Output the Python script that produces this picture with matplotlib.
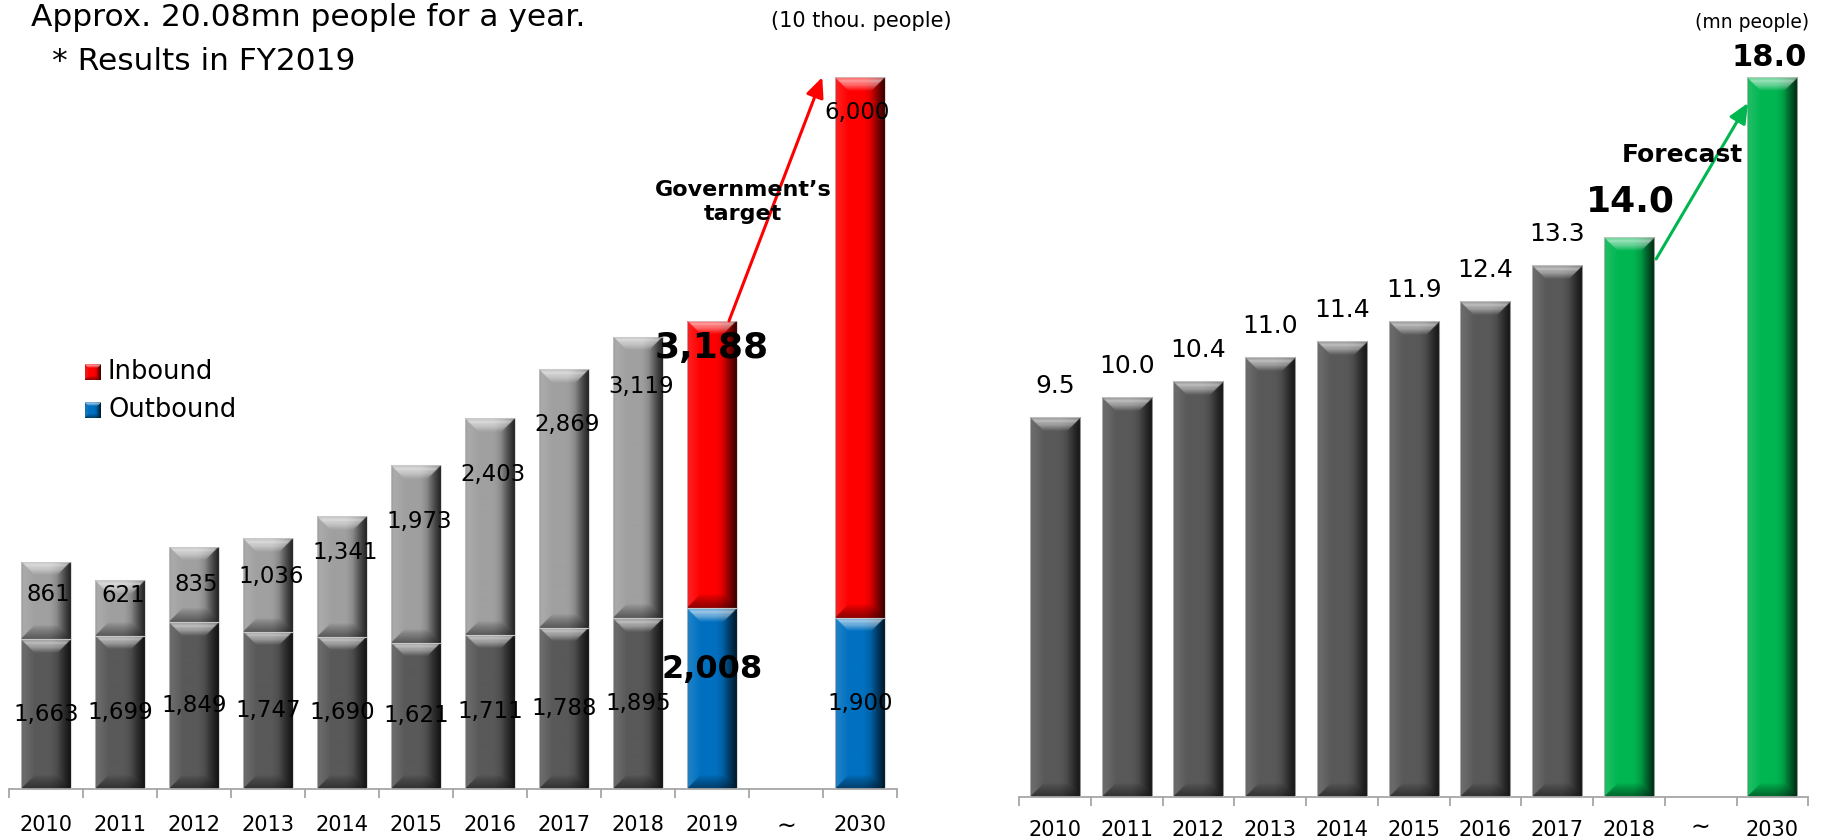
import numpy as np
import matplotlib
matplotlib.use("Agg")
import matplotlib.pyplot as plt
from matplotlib.colors import to_rgb

plt.rcParams["font.family"] = ["DejaVu Sans"]

# ---------------- data ----------------
years_left = ["2010", "2011", "2012", "2013", "2014", "2015", "2016",
              "2017", "2018", "2019", "\u223c", "2030"]
outbound = [1663, 1699, 1849, 1747, 1690, 1621, 1711, 1788, 1895, 2008, np.nan, 1900]
inbound = [861, 621, 835, 1036, 1341, 1973, 2403, 2869, 3119, 3188, np.nan, 6000]

years_right = ["2010", "2011", "2012", "2013", "2014", "2015", "2016",
               "2017", "2018", "\u223c", "2030"]
travelers = [9.5, 10.0, 10.4, 11.0, 11.4, 11.9, 12.4, 13.3, 14.0, np.nan, 18.0]

# ---------------- style ----------------
DARK_GRAY = "#595959"
LIGHT_GRAY = "#a0a0a0"
RED = "#ff0000"
BLUE = "#0070c0"
GREEN = "#00b650"
AXIS_GRAY = "#a6a6a6"

W, H, DPI = 1821, 839, 100
fig = plt.figure(figsize=(W / DPI, H / DPI), dpi=DPI)


def px_rect(x0, ybase, wpx, hpx):
    return [x0 / W, (H - ybase) / H, wpx / W, hpx / H]


def bevel(color, w, h, bev=14.0, ss=2):
    """RGB image of a bevelled bar face, w x h pixels."""
    w = max(int(round(w * ss)), 2)
    h = max(int(round(h * ss)), 2)
    bev = bev * ss
    base = np.array(to_rgb(color))
    y = (np.arange(h) + 0.5)[:, None] * np.ones((1, w))
    x = np.ones((h, 1)) * (np.arange(w) + 0.5)[None, :]
    d = np.stack([y, h - y, x, w - x])
    idx = d.argmin(0)
    dmin = d.min(0)
    t = np.clip(dmin / bev, 0, 1)
    xn = x / w
    face = np.ones_like(x)
    face *= np.where(xn > 0.55, 1 - 0.62 * ((xn - 0.55) / 0.45) ** 1.5, 1.0)
    face *= 1 - 0.2 * np.clip(1 - x / (2.5 * ss), 0, 1)
    img = base[None, None, :] * face[..., None]
    inside = dmin < bev
    # top bevel: a broad light band that fades into the face
    top = ((idx == 0) & inside)[..., None]
    amt = np.where(t < 0.55, 0.42 + 0.18 * np.exp(-((t - 0.28) / 0.12) ** 2),
                   0.42 * (1 - (t - 0.55) / 0.45))
    img = np.where(top, img + (1 - img) * amt[..., None], img)
    bottom = ((idx == 1) & inside)[..., None]
    img = np.where(bottom, img * (1 - 0.45 * (1 - t) ** 0.8)[..., None], img)
    left = ((idx == 2) & inside)[..., None]
    img = np.where(left, img + (1 - img) * (0.14 * (1 - t))[..., None], img)
    right = ((idx == 3) & inside)[..., None]
    img = np.where(right, img * (1 - 0.45 * (1 - t))[..., None], img)
    return np.clip(img, 0, 1)


def shade_bars(ax, bars, colors):
    for patch, col in zip(bars.patches, colors):
        hgt = patch.get_height()
        if not np.isfinite(hgt) or hgt <= 0:
            continue
        x0, y0 = patch.get_x(), patch.get_y()
        x1, y1 = x0 + patch.get_width(), y0 + hgt
        (px0, py0), (px1, py1) = ax.transData.transform([(x0, y0), (x1, y1)])
        img = bevel(col, abs(px1 - px0), abs(py1 - py0))
        im = ax.imshow(img, extent=(x0, x1, y0, y1), origin="upper",
                       aspect="auto", interpolation="bilinear", zorder=2.5)
        im.set_clip_path(patch)
        ax.add_patch(plt.Rectangle((x0, y0), x1 - x0, hgt, fill=False,
                                   edgecolor=(0.8, 0.8, 0.8, 0.7), lw=0.8,
                                   zorder=2.6))


def style_axis(ax, n):
    for s in ("top", "right", "left"):
        ax.spines[s].set_visible(False)
    ax.spines["bottom"].set_color(AXIS_GRAY)
    ax.spines["bottom"].set_linewidth(1.3)
    ax.set_yticks([])
    ax.set_xticks([])
    ax.set_xticks(np.arange(n + 1) - 0.5, minor=True)
    ax.tick_params(axis="x", which="minor", length=6.5, width=1.3,
                   color=AXIS_GRAY, labelbottom=False)
    ax.set_xlim(-0.5, n - 0.5)
    ax.set_autoscale_on(False)
    ax.patch.set_visible(False)


PT = 72 / DPI  # points per pixel

# ================= left chart =================
axL = fig.add_axes(px_rect(9, 789, 888, 8300 * 0.0901))
style_axis(axL, len(years_left))
axL.set_ylim(0, 8300)

xl = np.arange(len(years_left))
out_cols = [DARK_GRAY] * 9 + [BLUE, BLUE, BLUE]
in_cols = [LIGHT_GRAY] * 9 + [RED, RED, RED]
bw = 0.675
b_out = axL.bar(xl, outbound, width=bw, color=out_cols, zorder=2)
b_in = axL.bar(xl, inbound, bottom=outbound, width=bw, color=in_cols, zorder=2)
shade_bars(axL, b_out, out_cols)
shade_bars(axL, b_in, in_cols)

# value labels, gray years
inbound_label_drop_px = [33, 16, 37, 38, 37, 56, 56, 55, 49]
for i in range(9):
    o, n = outbound[i], inbound[i]
    axL.text(xl[i], o / 2, f"{o:,}", ha="center", va="center",
             fontsize=16.5, zorder=5)
    axL.annotate(f"{n:,}", xy=(xl[i], o + n), xytext=(2, -inbound_label_drop_px[i] * PT),
                 textcoords="offset points", ha="center", va="center",
                 fontsize=16.5, zorder=5)

# 2019 results
i19 = 9
axL.annotate(f"{inbound[i19]:,}", xy=(xl[i19], outbound[i19] + inbound[i19]),
             xytext=(0, -27 * PT), textcoords="offset points", ha="center",
             va="center", fontsize=26, fontweight="bold", zorder=5)
axL.annotate(f"{outbound[i19]:,}", xy=(xl[i19], outbound[i19]),
             xytext=(0, -61 * PT), textcoords="offset points", ha="center",
             va="center", fontsize=23, fontweight="bold", zorder=5)
# 2030 target
i30 = 11
axL.annotate(f"{inbound[i30]:,}", xy=(xl[i30], outbound[i30] + inbound[i30]),
             xytext=(-2, -35 * PT), textcoords="offset points", ha="center",
             va="center", fontsize=16.5, zorder=5)
axL.text(xl[i30], outbound[i30] / 2, f"{outbound[i30]:,}", ha="center",
         va="center", fontsize=16.5, zorder=5)

axL.annotate("", xy=(xl[i30] - 0.51, outbound[i30] + inbound[i30]),
             xytext=(xl[i19] + 0.23, outbound[i19] + inbound[i19]),
             arrowprops=dict(arrowstyle="-|>,head_length=0.6,head_width=0.27",
                             mutation_scale=20, color=RED, lw=2.2,
                             shrinkA=0, shrinkB=0), zorder=6)
axL.text(9.42, 6520, "Government\u2019s\ntarget", ha="center", va="center",
         fontsize=16, fontweight="bold", linespacing=1.25, zorder=7)

for i, lab in enumerate(years_left):
    if lab == "\u223c":
        axL.annotate(lab, xy=(i, 0), xytext=(0, -38 * PT), textcoords="offset points",
                     ha="center", va="center", fontsize=17, annotation_clip=False)
    else:
        axL.annotate(lab, xy=(i, 0), xytext=(0, -36 * PT), textcoords="offset points",
                     ha="center", va="center", fontsize=15, annotation_clip=False)

# ================= right chart =================
axR = fig.add_axes(px_rect(1019, 797, 789.25, 19 * 40))
style_axis(axR, len(years_right))
axR.set_ylim(0, 19)

xr = np.arange(len(years_right))
r_cols = [DARK_GRAY] * 8 + [GREEN, GREEN, GREEN]
b_r = axR.bar(xr, travelers, width=0.70, color=r_cols, zorder=2)
shade_bars(axR, b_r, r_cols)

for i in range(8):
    axR.annotate(f"{travelers[i]:.1f}", xy=(xr[i], travelers[i]),
                 xytext=(0, 31 * PT), textcoords="offset points", ha="center",
                 va="center", fontsize=18, zorder=5)
axR.annotate(f"{travelers[8]:.1f}", xy=(xr[8], travelers[8]),
             xytext=(1, 36 * PT), textcoords="offset points", ha="center",
             va="center", fontsize=26, fontweight="bold", zorder=5)
axR.annotate(f"{travelers[10]:.1f}", xy=(xr[10], travelers[10]),
             xytext=(-2, 20 * PT), textcoords="offset points", ha="center",
             va="center", fontsize=22, fontweight="bold", zorder=5,
             annotation_clip=False)

axR.annotate("", xy=(xr[10] - 0.34, travelers[10] - 0.65),
             xytext=(xr[8] + 0.38, travelers[8] - 0.55),
             arrowprops=dict(arrowstyle="-|>,head_length=0.6,head_width=0.27",
                             mutation_scale=20, color=GREEN, lw=2.2,
                             shrinkA=0, shrinkB=0), zorder=6)
axR.text(8.75, 16.05, "Forecast", ha="center", va="center", fontsize=18,
         fontweight="bold", zorder=7)

for i, lab in enumerate(years_right):
    if lab == "\u223c":
        axR.annotate(lab, xy=(i, 0), xytext=(0, -31 * PT), textcoords="offset points",
                     ha="center", va="center", fontsize=17, annotation_clip=False)
    else:
        axR.annotate(lab, xy=(i, 0), xytext=(0, -33 * PT), textcoords="offset points",
                     ha="center", va="center", fontsize=15, annotation_clip=False)

# ================= headers, units, legend =================
fig.text(31 / W, 1 - 18 / H, "Approx. 20.08mn people for a year.",
         ha="left", va="center", fontsize=22.5)
fig.text(52 / W, 1 - 61 / H, "* Results in FY2019", ha="left", va="center",
         fontsize=22.5)
fig.text(952 / W, 1 - 21 / H, "(10 thou. people)", ha="right", va="center",
         fontsize=15)
fig.text(1809 / W, 1 - 23 / H, "(mn people)", ha="right", va="center",
         fontsize=13.5)

legend_items = [("Inbound", RED), ("Outbound", BLUE)]
for k, (name, col) in enumerate(legend_items):
    cy = 372 + 38 * k
    fig.figimage(bevel(col, 16, 16, bev=4, ss=1), xo=85, yo=H - cy - 8,
                 origin="upper", zorder=5)
    fig.text(108 / W, 1 - cy / H, name, ha="left", va="center", fontsize=18.5)

fig.savefig("out.png", dpi=DPI)
